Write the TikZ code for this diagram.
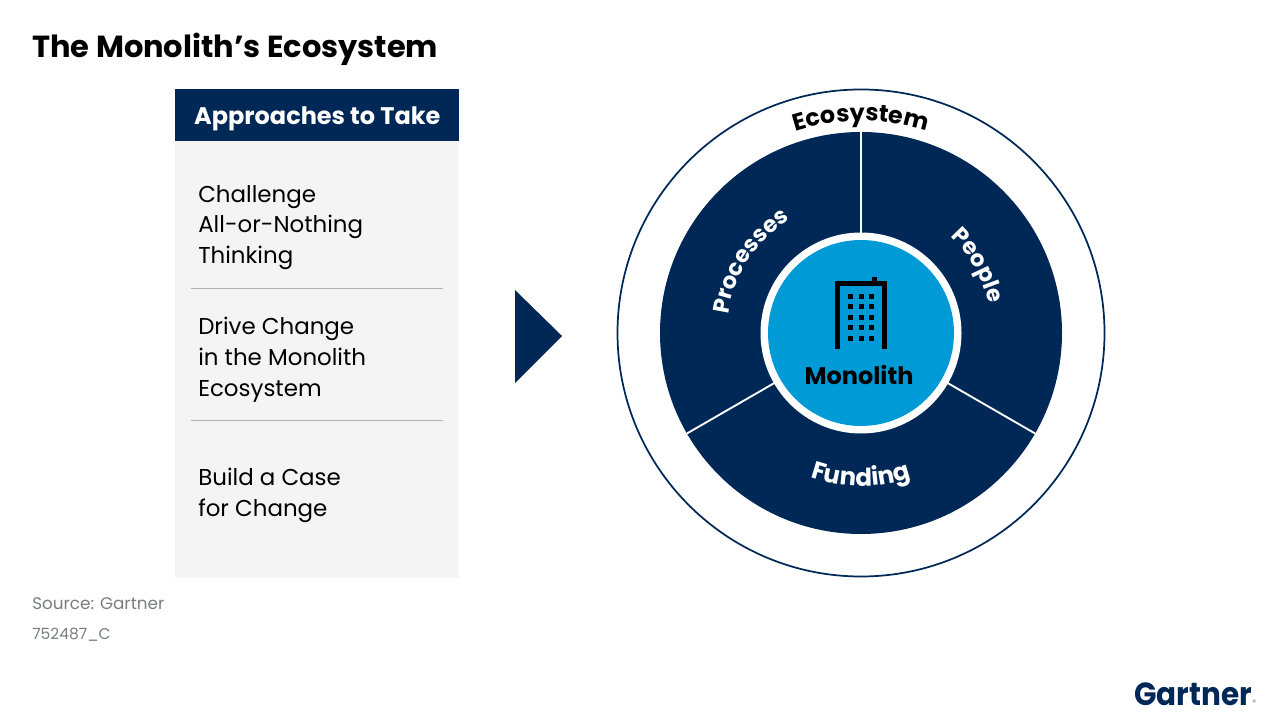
\documentclass[tikz,border=0pt]{standalone}
\usepackage{fontspec}
\setmainfont{Poppins}
\usetikzlibrary{decorations.text}
\definecolor{navy}{RGB}{0,40,86}
\definecolor{sky}{RGB}{0,154,215}
\definecolor{panel}{RGB}{244,244,244}
\definecolor{srcgray}{RGB}{120,125,128}
\tikzset{
  listitem/.style={anchor=north west, align=left, inner sep=0pt, text=black,
                   font=\fontsize{17.2}{23}\selectfont},
  divider/.style={draw=black!30, line width=0.75pt},
  srclbl/.style={anchor=base west, inner sep=0pt, text=srcgray, font=\fontsize{12.6}{15}\selectfont},
  spoke/.style={draw=white, line width=1.4pt},
  arclbl/.style={decorate, decoration={text along path, text align=center, text={#1}}},
}
\newcommand{\arcfont}{\fontsize{17}{20}\bfseries\selectfont}
\newcommand{\arcbigfont}{\fontsize{18.4}{20}\bfseries\selectfont}
\newcommand{\arcrimfont}{\fontsize{17.8}{20}\bfseries\selectfont}
\begin{document}
\begin{tikzpicture}[x=0.75pt, y=0.75pt]
  \useasboundingbox (0,0) rectangle (1280,720);

  % ============ title and source ============
  \node[anchor=base west, inner sep=0pt, font=\fontsize{22.85}{28}\bfseries\selectfont] (title)
    at (32,662) {The Monolith’s Ecosystem};
  \node[srclbl] (source) at (32,110) {Source: Gartner};
  \node[srclbl, font=\fontsize{11.6}{15}\selectfont] (code) at (32,80) {752487\_C};

  % ============ left panel ============
  \fill[panel] (175,142) rectangle (459,631);
  \node[fill=navy, text=white, minimum width=213pt, minimum height=39pt, inner sep=0pt,
        text height=14pt, text depth=0pt,
        anchor=north west, font=\fontsize{18}{20}\bfseries\selectfont] (head)
    at (175,631) {Approaches to Take};
  \node[listitem] (item1) at (198,535) {Challenge\\All-or-Nothing\\Thinking};
  \node[listitem] (item2) at (198,403) {Drive Change\\in the Monolith\\Ecosystem};
  \node[listitem] (item3) at (198,252) {Build a Case\\for Change};
  \draw[divider] (191,431) -- (443,431);
  \draw[divider] (191,299) -- (443,299);

  \fill[navy] (515,430) -- (562,384) -- (515,337) -- cycle;

  % ============ the wheel ============
  \coordinate (hub) at (861,387);
  \draw[navy, line width=1.3pt] (hub) circle[radius=243.5];
  \fill[navy] (hub) circle[radius=201];
  \draw[spoke] (hub) -- ++(90:201);
  \draw[spoke] (hub) -- ++(-30:201);
  \draw[spoke] (hub) -- ++(210:201);
  \fill[white] (hub) circle[radius=100.5];
  \fill[sky] (hub) circle[radius=93];

  % curved labels
  \path[postaction={arclbl={|\arcrimfont|Ecosystem}}] ([shift={(125:212)}]hub) arc[start angle=125, end angle=55, radius=212];
  \path[postaction={arclbl={|\arcfont\color{white}|Processes}}] ([shift={(202:134)}]hub) arc[start angle=202, end angle=92, radius=134];
  \path[postaction={arclbl={|\arcfont\color{white}|People}}] ([shift={(85:131)}]hub) arc[start angle=85, end angle=-25, radius=131];
  \path[postaction={arclbl={|\arcbigfont\color{white}|Funding}}] ([shift={(235:153)}]hub) arc[start angle=235, end angle=305, radius=153];

  % the building
  \draw[black, line width=3.75pt] (837.5,371) -- (837.5,436.5) -- (884.5,436.5) -- (884.5,371);
  \fill[black] (872,439) rectangle (877,443);
  \foreach \wx in {848,858.5,869}
    \foreach \wy in {421,410.5,400,389.5,379}
      \fill[black] (\wx,\wy) rectangle ++(5,5);
  \node[anchor=base, inner sep=0pt, font=\fontsize{18}{20}\bfseries\selectfont] (mono)
    at (859,335) {Monolith};

  % ============ logo ============
  \node[anchor=base east, inner sep=0pt, text=navy, font=\fontsize{24}{26}\bfseries\selectfont] (logo)
    at (1252,14) {\scalebox{.92}[1]{Gartner}};
  \node[anchor=base west, inner sep=0pt, text=srcgray, font=\fontsize{6}{6}\selectfont] (regmark)
    at (logo.base east) {®};
\end{tikzpicture}
\end{document}
